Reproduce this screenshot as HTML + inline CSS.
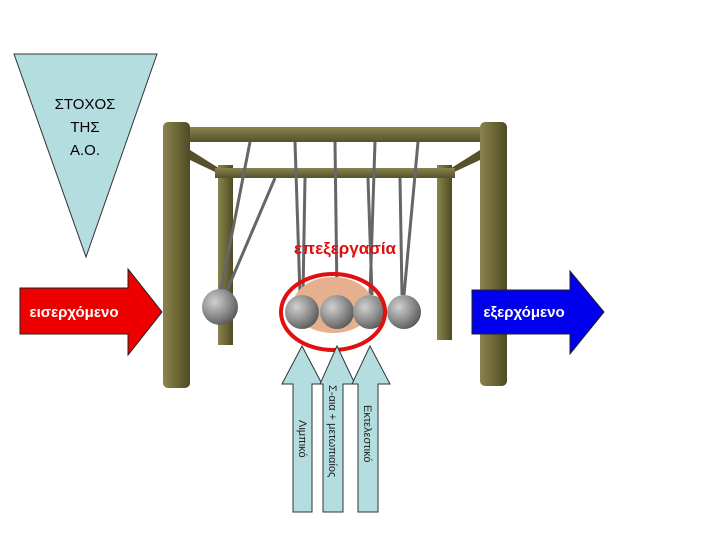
<html><body style="margin:0;width:720px;height:540px;background:#fff;overflow:hidden">
<svg width="720" height="540" xmlns="http://www.w3.org/2000/svg" font-family="Liberation Sans, sans-serif">
<defs>
<linearGradient id="p" x1="0" x2="1"><stop offset="0" stop-color="#8a8450"/><stop offset=".5" stop-color="#6e6838"/><stop offset="1" stop-color="#4e4a24"/></linearGradient>
<linearGradient id="b" x1="0" y1="0" x2="0" y2="1"><stop offset="0" stop-color="#8a8450"/><stop offset="1" stop-color="#55512a"/></linearGradient>
<radialGradient id="ball" cx=".35" cy=".35" r=".7"><stop offset="0" stop-color="#d0d0d0"/><stop offset=".6" stop-color="#8c8c8c"/><stop offset="1" stop-color="#5a5a5a"/></radialGradient>
</defs>
<polygon points="14,54 157,54 86,257" fill="#b4dde0" stroke="#333" stroke-width="1"/>
<text x="85" y="109" font-size="15" text-anchor="middle">ΣΤΟΧΟΣ</text>
<text x="85" y="132" font-size="15" text-anchor="middle">ΤΗΣ</text>
<text x="85" y="155" font-size="15" text-anchor="middle">Α.Ο.</text>
<!-- frame -->
<polygon points="190,150 225,172 232,180 190,160" fill="#55512a"/>
<polygon points="480,150 445,172 437,180 480,160" fill="#55512a"/>
<rect x="218" y="165" width="15" height="180" fill="url(#p)"/>
<rect x="437" y="165" width="15" height="175" fill="url(#p)"/>
<rect x="215" y="168" width="240" height="10" fill="url(#b)"/>
<rect x="180" y="127" width="310" height="15" fill="url(#b)"/>
<rect x="163" y="122" width="27" height="266" rx="5" fill="url(#p)"/>
<rect x="480" y="122" width="27" height="264" rx="5" fill="url(#p)"/>
<g stroke="#666" stroke-width="3">
<line x1="250" y1="142" x2="220" y2="295"/><line x1="275" y1="178" x2="225" y2="295"/>
<line x1="295" y1="142" x2="300" y2="295"/><line x1="305" y1="178" x2="303" y2="295"/>
<line x1="335" y1="142" x2="337" y2="295"/>
<line x1="375" y1="142" x2="370" y2="295"/><line x1="368" y1="178" x2="372" y2="295"/>
<line x1="418" y1="142" x2="404" y2="295"/><line x1="400" y1="178" x2="402" y2="295"/>
</g>
<ellipse cx="333" cy="305" rx="40" ry="28" fill="#e6b08e"/>
<circle cx="220" cy="307" r="18" fill="url(#ball)"/>
<circle cx="302" cy="312" r="17" fill="url(#ball)"/>
<circle cx="337" cy="312" r="17" fill="url(#ball)"/>
<circle cx="370" cy="312" r="17" fill="url(#ball)"/>
<circle cx="404" cy="312" r="17" fill="url(#ball)"/>
<ellipse cx="333" cy="312" rx="52" ry="38" fill="none" stroke="#e01010" stroke-width="4"/>
<text x="345" y="254" font-size="17" font-weight="bold" fill="#dd1010" text-anchor="middle">επεξεργασία</text>
<!-- arrows -->
<polygon points="20,288 128,288 128,269 162,312 128,355 128,334 20,334" fill="#ee0000" stroke="#222"/>
<text x="74" y="317" font-size="15" font-weight="bold" fill="#fff" text-anchor="middle">εισερχόμενο</text>
<polygon points="472,290 570,290 570,271 604,312 570,354 570,334 472,334" fill="#0000ee" stroke="#222"/>
<text x="524" y="317" font-size="15" font-weight="bold" fill="#fff" text-anchor="middle">εξερχόμενο</text>
<g fill="#b4dde0" stroke="#333">
<polygon points="293,512 312,512 312,384 322,384 302,346 282,384 293,384"/>
<polygon points="323,512 343,512 343,384 355,384 337,346 320,384 323,384"/>
<polygon points="358,512 378,512 378,384 390,384 370,346 352,384 358,384"/>
</g>
<g font-size="11" fill="#222">
<text transform="translate(299,420) rotate(90)">Λιμπικό</text>
<text transform="translate(329,385) rotate(90)">Σ-αια + μετωπιαίος</text>
<text transform="translate(364,405) rotate(90)">Εκτελεστικό</text>
</g>
</svg>
</body></html>
